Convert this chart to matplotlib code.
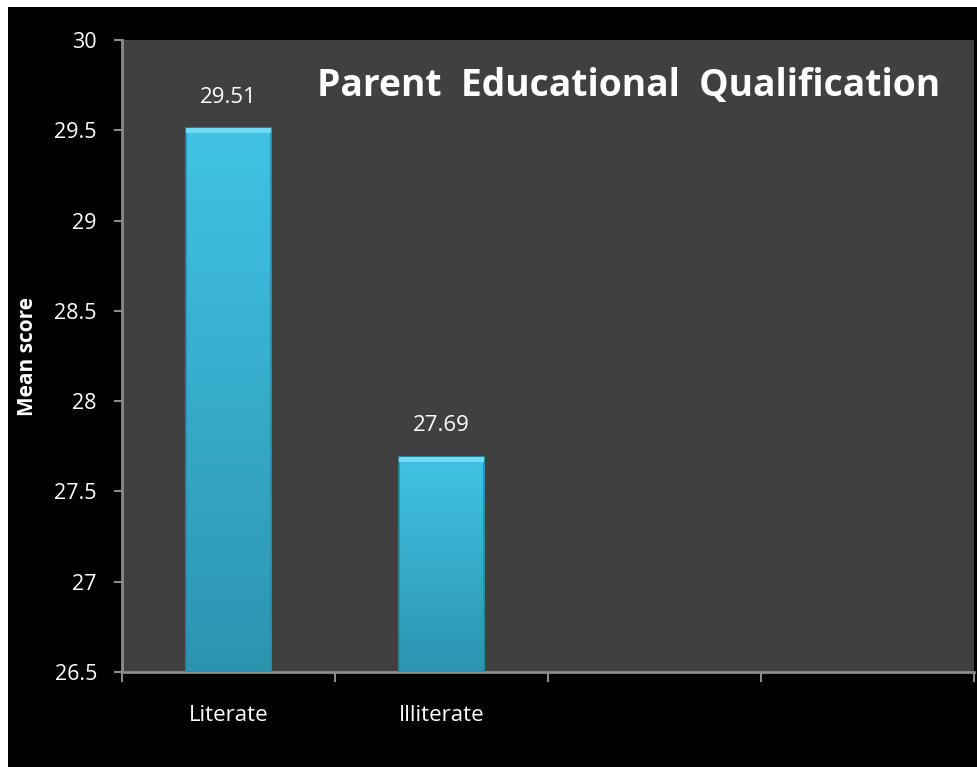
import numpy as np
import matplotlib.pyplot as plt
from matplotlib.patches import Rectangle

categories = ['Literate', 'Illiterate']
scores = [29.51, 27.69]
n_slots = 4          # the category axis has two unused slots
y_ticks = [26.5, 27, 27.5, 28, 28.5, 29, 29.5, 30]

plt.rcParams['font.family'] = ['Open Sans', 'DejaVu Sans']

fig = plt.figure(figsize=(9.78, 7.67), dpi=100)
fig.patch.set_facecolor('white')
# black backdrop with a thin white margin on top/left
fig.patches.append(Rectangle((8 / 978, 0), 969 / 978, 760 / 767,
                             transform=fig.transFigure, facecolor='black',
                             edgecolor='none', zorder=-10))

ax = fig.add_axes([122 / 978, 1 - 672 / 767, 852 / 978, 632 / 767])
ax.set_facecolor('#404040')

ymin, ymax = y_ticks[0], y_ticks[-1]
ax.set_ylim(ymin, ymax)
ax.set_xlim(-0.5, n_slots - 0.5)

# vertical gradient fill for the bars
grad = np.linspace(0, 1, 256).reshape(-1, 1)
top_c = np.array([0x41, 0xc3, 0xe5]) / 255
bot_c = np.array([0x2c, 0x94, 0xb0]) / 255
width = 0.4
x = np.arange(len(categories))
bars = ax.bar(x, np.array(scores) - ymin, bottom=ymin, width=width,
              color='none', edgecolor='#2a8aa5', linewidth=1.2, zorder=3)
for bar, val in zip(bars, scores):
    x0 = bar.get_x()
    img = bot_c + (top_c - bot_c) * grad
    im = ax.imshow(img.reshape(256, 1, 3), extent=[x0, x0 + width, ymin, val],
                   origin='lower', aspect='auto', zorder=2)
    im.set_clip_path(bar)
    # bevel highlight along the top edge
    ax.add_patch(Rectangle((x0, val - 0.025), width, 0.025,
                           facecolor='#6fdcf5', edgecolor='none', zorder=4))
    ax.annotate(f'{val:.2f}', (x0 + width / 2, val), xytext=(0, 15),
                textcoords='offset points', ha='center', va='bottom',
                color='white', fontsize=16)

ax.set_aspect('auto')
ax.set_yticks(y_ticks)
ax.set_yticklabels([f'{t:g}' for t in y_ticks])
ax.set_xticks(x)
ax.set_xticklabels(categories)
ax.set_xticks(np.arange(n_slots + 1) - 0.5, minor=True)

ax.tick_params(axis='y', colors='#8c8c8c', labelcolor='white', labelsize=15.5,
               length=6, width=1.5, direction='out', pad=12)
ax.tick_params(axis='x', which='major', length=0, labelcolor='white',
               labelsize=16, pad=24)
ax.tick_params(axis='x', which='minor', colors='#8c8c8c', length=7,
               width=1.5, direction='out')

for side in ['top', 'right']:
    ax.spines[side].set_visible(False)
for side in ['left', 'bottom']:
    ax.spines[side].set_color('#8c8c8c')
    ax.spines[side].set_linewidth(2)

ax.set_ylabel('Mean score', color='white', fontsize=15, fontweight='bold',
              labelpad=12)

ax.text(0.960, 0.928, 'Parent  Educational  Qualification', transform=ax.transAxes,
        ha='right', va='center', color='white', fontsize=26.8, fontweight='bold')

fig.savefig('out.png', dpi=100, facecolor=fig.get_facecolor())
